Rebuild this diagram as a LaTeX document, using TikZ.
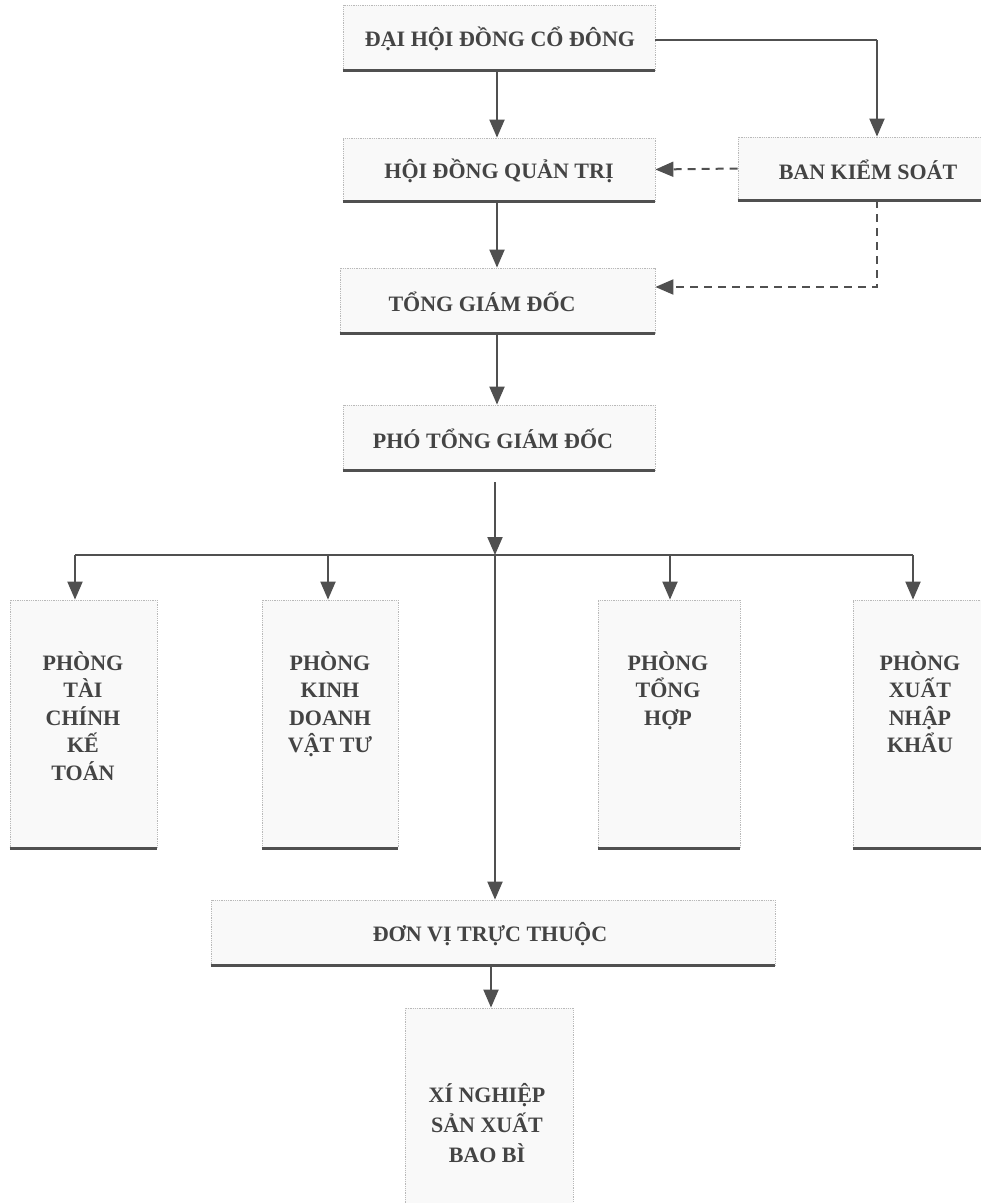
\documentclass[tikz,border=0pt]{standalone}
\usepackage{fontspec}
\setmainfont{Liberation Serif}
\usetikzlibrary{arrows.meta,calc}
\definecolor{ink}{HTML}{444444}
\definecolor{lineink}{HTML}{505050}
\begin{document}
\begin{tikzpicture}[x=1pt,y=-1pt,
  box/.style={draw=gray!55, densely dotted, line width=0.8pt, fill=gray!5, inner sep=0pt},
  lbl/.style={text=ink, font=\fontsize{22}{27.5}\selectfont\bfseries, align=center, inner sep=0pt},
  shade/.style={draw=lineink, line width=2.6pt},
  arr/.style={draw=lineink, line width=2pt, -{Triangle[length=18pt,width=15pt]}},
  dsh/.style={draw=lineink, line width=2pt, dash pattern=on 8pt off 6pt, -{Triangle[length=18pt,width=15pt]}},
  ln/.style={draw=lineink, line width=2pt}]
\useasboundingbox[fill=white] (0,0) rectangle (981,1203);

% boxes
\node[box, minimum width=312pt, minimum height=65pt] (b1) at (499,37.5) {};
\node[box, minimum width=312pt, minimum height=63pt] (b2) at (499,169.5) {};
\node[box, minimum width=260pt, minimum height=63pt] (bks) at (868,168.5) {};
\node[box, minimum width=315pt, minimum height=65pt] (b3) at (497.5,300.5) {};
\node[box, minimum width=312pt, minimum height=65pt] (b4) at (499,437.5) {};
\node[box, minimum width=147pt, minimum height=248pt] (p1) at (83.5,724) {};
\node[box, minimum width=136pt, minimum height=248pt] (p2) at (330,724) {};
\node[box, minimum width=142pt, minimum height=248pt] (p3) at (669,724) {};
\node[box, minimum width=134pt, minimum height=248pt] (p4) at (920,724) {};
\node[box, minimum width=564pt, minimum height=65pt] (dv) at (493,932.5) {};
\node[box, minimum width=168pt, minimum height=195pt] (xn) at (489,1105.5) {};

% bottom shadow edges
\foreach \b in {b1,b2,bks,b3,b4,p1,p2,p3,p4,dv} {
  \draw[shade] (\b.south west) -- (\b.south east);
}

% labels
\node[lbl] (t1) at (500,39) {ĐẠI HỘI ĐỒNG CỔ ĐÔNG};
\node[lbl] (t2) at (499,171) {HỘI ĐỒNG QUẢN TRỊ};
\node[lbl] (tks) at (868,170) {BAN KIỂM SOÁT};
\node[lbl] (t3) at (482,302) {TỔNG GIÁM ĐỐC};
\node[lbl] (t4) at (493,439) {PHÓ TỔNG GIÁM ĐỐC};
\node[lbl, anchor=north] (tp1) at (83,651) {PHÒNG\\TÀI\\CHÍNH\\KẾ\\TOÁN};
\node[lbl, anchor=north] (tp2) at (330,651) {PHÒNG\\KINH\\DOANH\\VẬT TƯ};
\node[lbl, anchor=north] (tp3) at (668,651) {PHÒNG\\TỔNG\\HỢP};
\node[lbl, anchor=north] (tp4) at (920,651) {PHÒNG\\XUẤT\\NHẬP\\KHẨU};
\node[lbl] (tdv) at (490,934) {ĐƠN VỊ TRỰC THUỘC};
\node[lbl, anchor=north, font=\fontsize{22}{30}\selectfont\bfseries] (txn) at (487,1083) {XÍ NGHIỆP\\SẢN XUẤT\\BAO BÌ};

% connectors
\coordinate (K) at (877,40);
\coordinate (K2) at (877,287);
\coordinate (S) at (495,482);
\coordinate (J) at (495,555);
\coordinate (h1) at (75,555);
\coordinate (h2) at (328,555);
\coordinate (h3) at (670,555);
\coordinate (h4) at (913,555);

\draw[arr] (b1.south -| 497,0) -- (b2.north -| 497,0);
\draw[arr] (b2.south -| 497,0) -- (b3.north -| 497,0);
\draw[arr] (b3.south -| 497,0) -- (b4.north -| 497,0);
\draw[ln] (b1.east |- K) -- (K);
\draw[arr] (K) -- (K |- bks.north);
\draw[dsh] (bks.west) -- (b2.east);
\draw[dsh] (bks.south -| K2) -- (K2) -- (b3.east |- K2);

\draw[arr] (S) -- (J);
\draw[ln] (h1) -- (h4);
\draw[arr] (h1) -- (h1 |- p1.north);
\draw[arr] (h2) -- (h2 |- p2.north);
\draw[arr] (h3) -- (h3 |- p3.north);
\draw[arr] (h4) -- (h4 |- p4.north);
\draw[arr] (J) -- (J |- dv.north);
\draw[arr] (dv.south -| 491,0) -- (xn.north -| 491,0);
\end{tikzpicture}
\end{document}
